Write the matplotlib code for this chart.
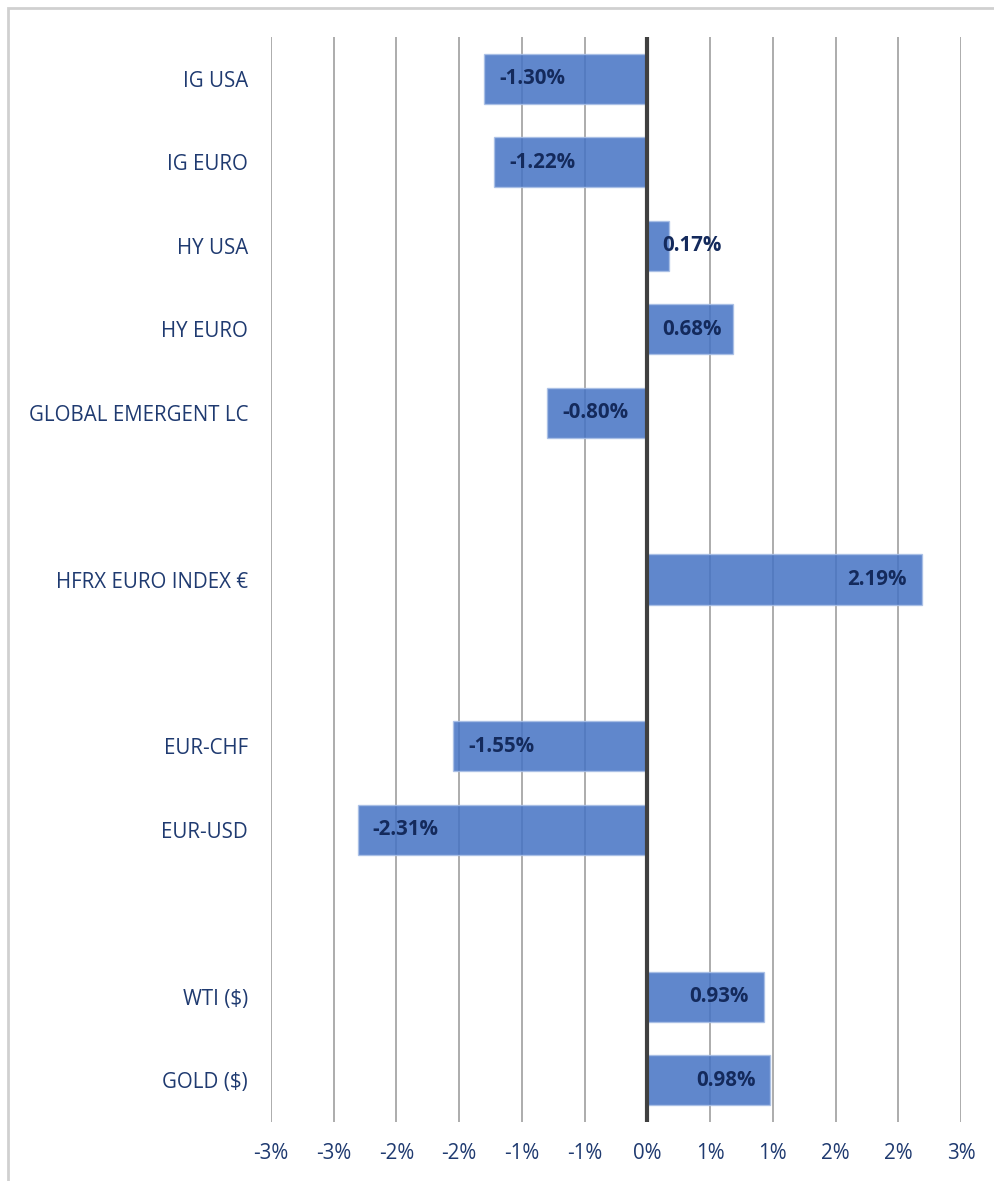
import matplotlib
matplotlib.use("Agg")
import matplotlib.pyplot as plt
from matplotlib.patches import Rectangle

categories = ["IG USA", "IG EURO", "HY USA", "HY EURO", "GLOBAL EMERGENT LC", "",
              "HFRX EURO INDEX €", "", "EUR-CHF", "EUR-USD", "", "WTI ($)", "GOLD ($)"]
values = [-1.30, -1.22, 0.17, 0.68, -0.80, None, 2.19, None, -1.55, -2.31, None, 0.93, 0.98]
tick_values = [-3.0, -2.5, -2.0, -1.5, -1.0, -0.5, 0.0, 0.5, 1.0, 1.5, 2.0, 2.5]
tick_labels = ["-3%", "-3%", "-2%", "-2%", "-1%", "-1%", "0%", "1%", "1%", "2%", "2%", "3%"]

W, H = 994, 1181
fig = plt.figure(figsize=(W / 100, H / 100), dpi=100)
plt.rcParams['font.family'] = ['Open Sans', 'DejaVu Sans']
navy = '#1F3A70'
label_navy = '#142A5C'
fs = 14.8

# chart border
fig.patches.append(Rectangle((8 / W, -0.1), 1.2, 1 - 8 / H + 0.1, transform=fig.transFigure,
                             fill=False, edgecolor='#D0D0D0', linewidth=2))

left, right, top, bottom = 271, 961, 37, 1122
ax = fig.add_axes([left / W, 1 - bottom / H, (right - left) / W, (bottom - top) / H])
ax.set_xlim(-3.0, 2.5)
ax.set_ylim(len(categories) - 0.5, -0.5)
for s in ax.spines.values():
    s.set_visible(False)

for t in tick_values:
    if t != 0:
        ax.axvline(t, color='#A6A6A6', linewidth=1.3, zorder=0)

ypos = list(range(len(categories)))
for y, v in zip(ypos, values):
    if v is None:
        continue
    ax.barh(y, v, height=0.6, color='#4472C4', alpha=0.85, edgecolor='#A9BFE6',
            linewidth=1, zorder=2)

ax.axvline(0, color='#404040', linewidth=3, zorder=3)

ax.set_yticks(ypos)
ax.set_yticklabels(categories, color=navy, fontsize=fs)
ax.set_xticks(tick_values)
ax.set_xticklabels(tick_labels, color=navy, fontsize=fs)
ax.tick_params(axis='both', length=0)
ax.tick_params(axis='y', pad=16.5)
ax.tick_params(axis='x', pad=15)

fig.canvas.draw()
renderer = fig.canvas.get_renderer()
px_per_unit = ax.transData.transform((1, 0))[0] - ax.transData.transform((0, 0))[0]
pad = 15 / px_per_unit
minstart = 15 / px_per_unit
for y, v in zip(ypos, values):
    if v is None:
        continue
    txt = f"{v:.2f}%"
    t = ax.text(0, y, txt, ha='left', va='center', fontsize=fs, fontweight='bold',
                color=label_navy, zorder=4)
    w = t.get_window_extent(renderer).width / px_per_unit
    if v < 0:
        x0 = v + pad
        x0 = min(x0, -minstart - w)
    else:
        x0 = v - pad - w
        x0 = max(x0, minstart)
    t.set_x(x0)

fig.savefig("out.png", dpi=100)
